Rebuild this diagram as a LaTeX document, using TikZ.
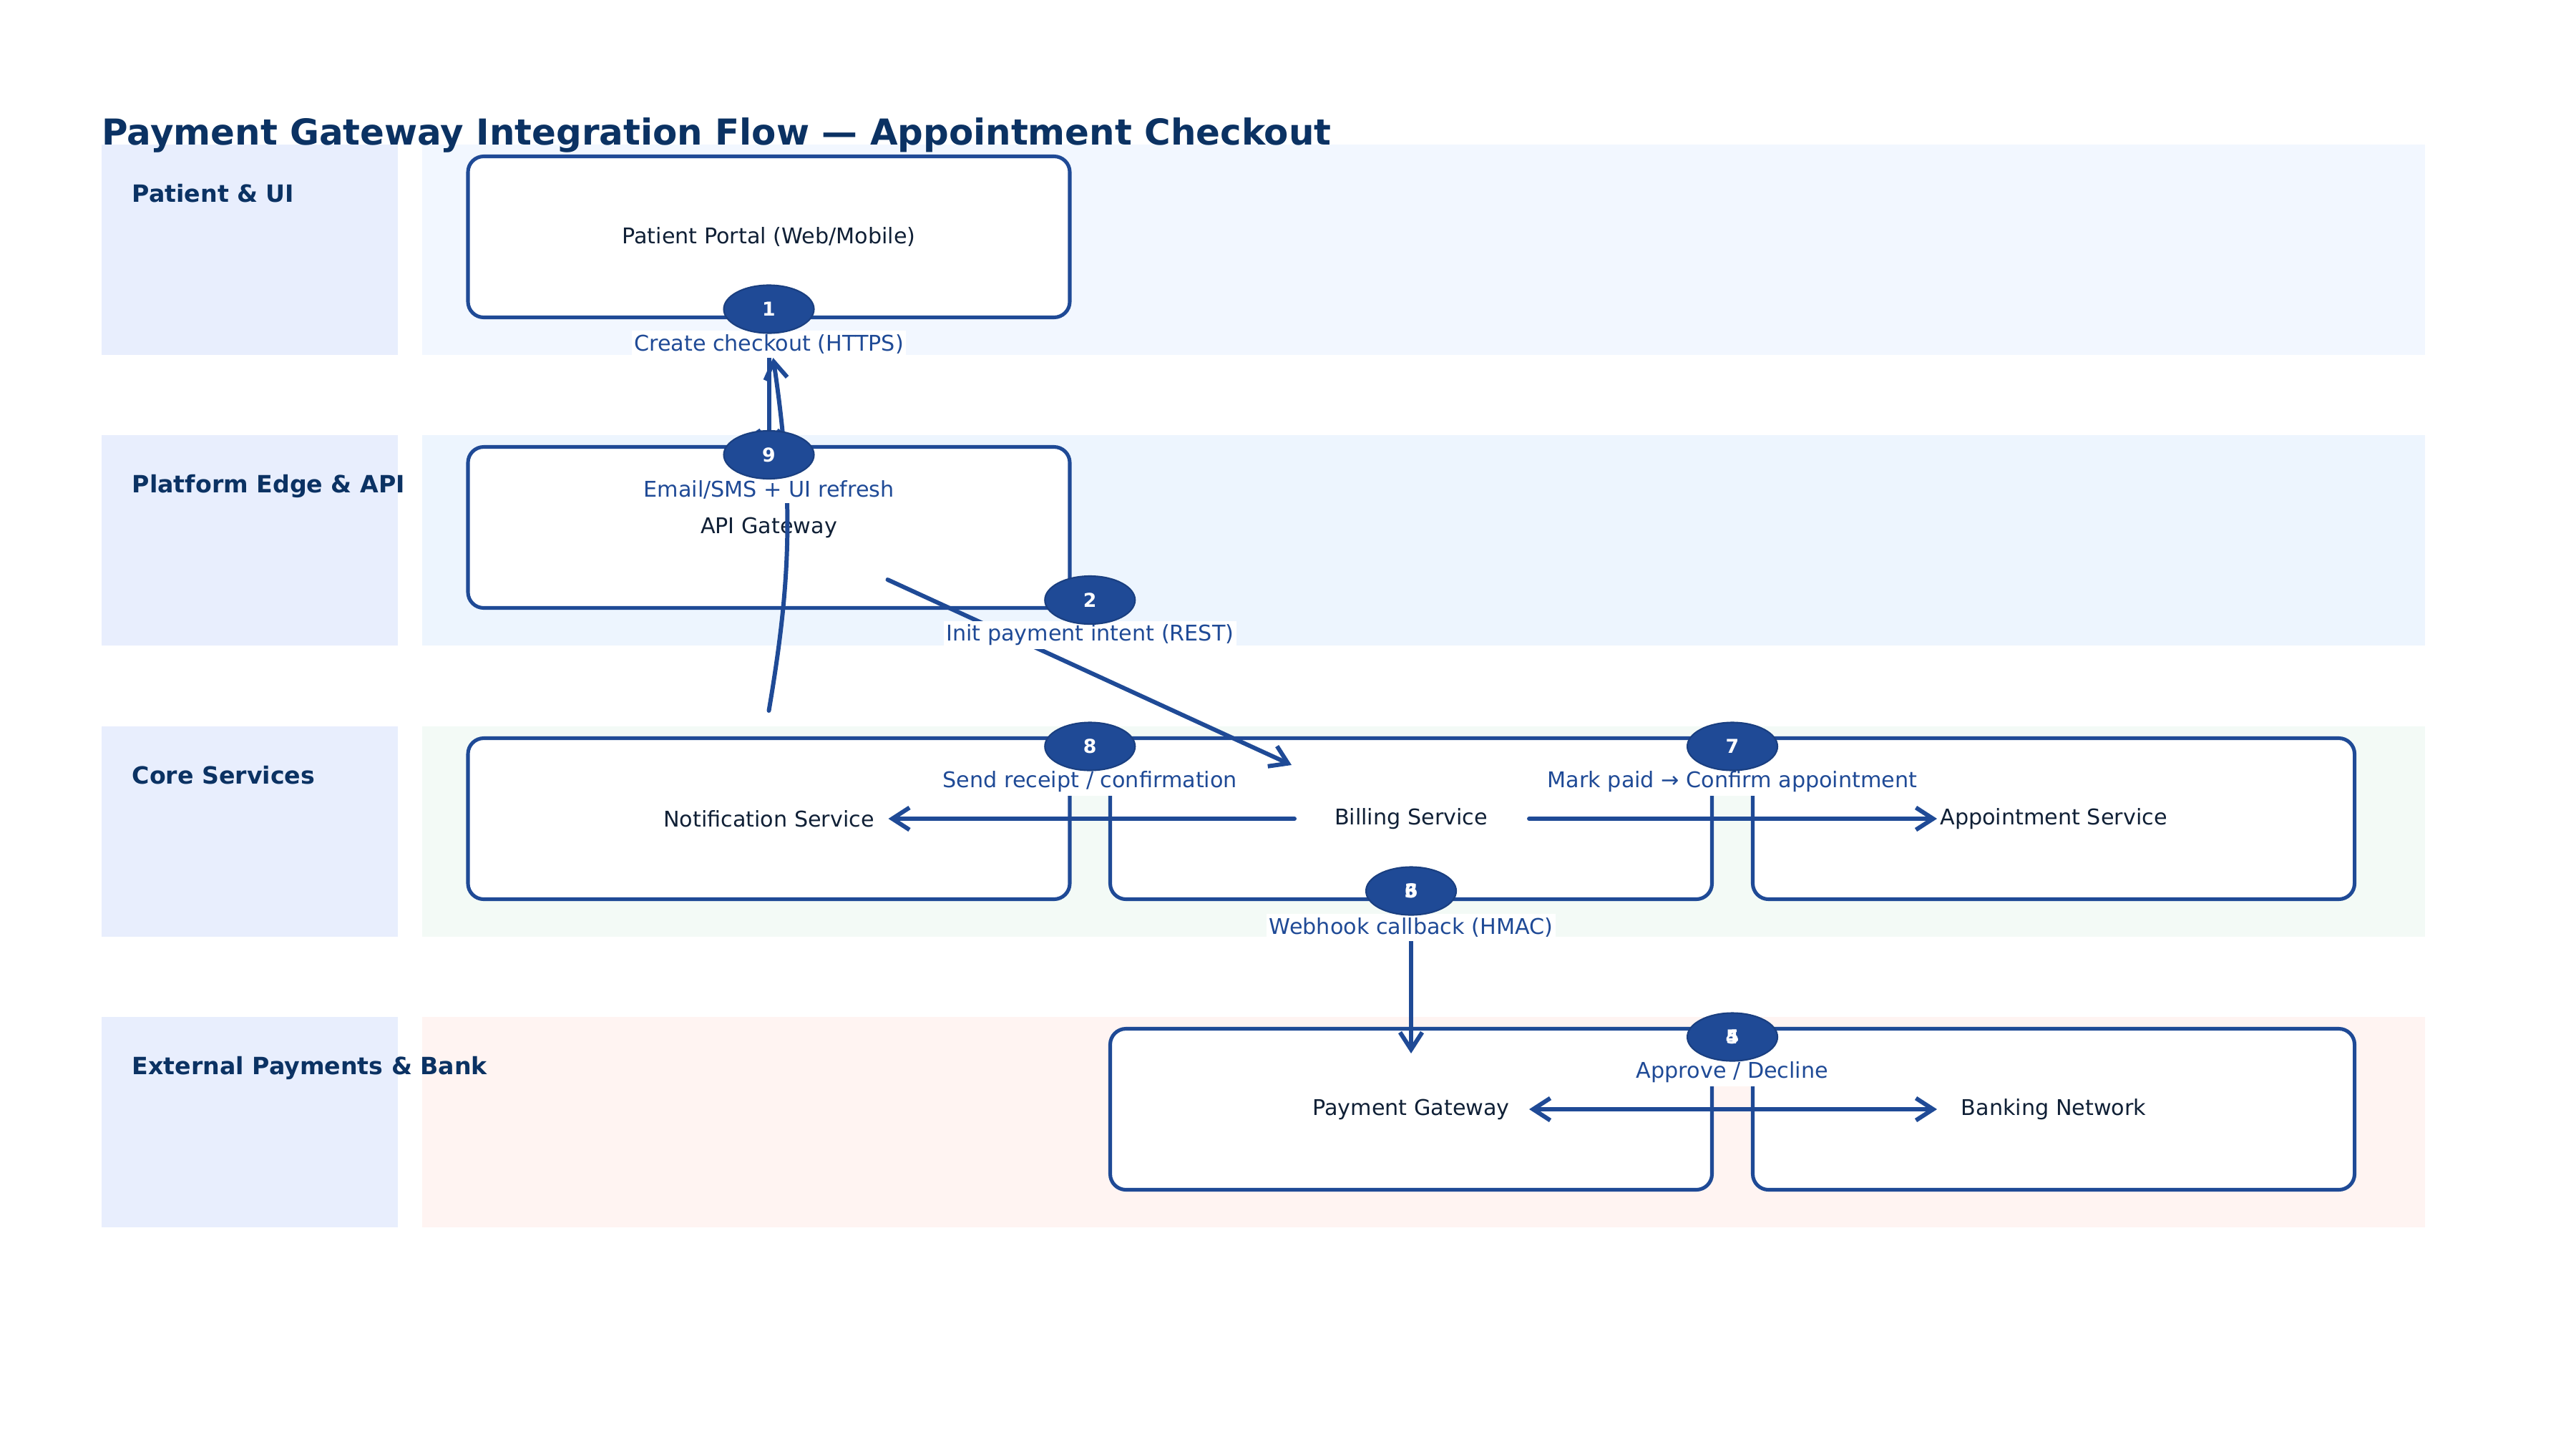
\documentclass[tikz,border=0pt]{standalone}
\usepackage{fontspec}
\setmainfont{DejaVu Sans}
\usepackage{xcolor}
\usepackage{tikz}
\usetikzlibrary{calc,arrows.meta,shapes.geometric}

\definecolor{navy}{HTML}{0B3263}
\definecolor{flowblue}{HTML}{1F4A96}
\definecolor{inkdark}{HTML}{102036}
\definecolor{lanehead}{HTML}{E8EEFD}
\definecolor{laneui}{HTML}{F2F7FF}
\definecolor{laneedge}{HTML}{EDF5FE}
\definecolor{lanecore}{HTML}{F3FAF6}
\definecolor{laneext}{HTML}{FFF4F2}

\begin{document}
\begin{tikzpicture}[
  svc/.style={draw=flowblue, line width=1.45pt, fill=white, rounded corners=0.22cm,
    minimum width=8.41cm, minimum height=2.25cm, inner sep=0pt,
    text=inkdark, font=\fontsize{8.6}{10}\selectfont},
  badge/.style={ellipse, fill=flowblue, draw=flowblue!85!black, line width=0.6pt,
    minimum width=1.26cm, minimum height=0.67cm, inner sep=0pt,
    text=white, font=\bfseries\fontsize{7.6}{9}\selectfont},
  steplabel/.style={fill=white, text=flowblue, inner xsep=1pt, inner ysep=1.5pt,
    font=\fontsize{8.6}{10}\selectfont},
  flow/.style={draw=flowblue, line width=1.7pt, line cap=round,
    -{Straight Barb[length=2.4mm,width=3.1mm]}},
  lanetitle/.style={anchor=base west, inner sep=0pt, text=navy, font=\bfseries\fontsize{9.45}{11}\selectfont}
]
  \fill[white] (0,0) rectangle (36,-20);
  \useasboundingbox (0,0) rectangle (36,-20);

  % swim lanes
  \fill[lanehead] (1.42,-2.02) rectangle (5.56,-4.96);
  \fill[laneui] (5.90,-2.02) rectangle (33.89,-4.96);
  \fill[lanehead] (1.42,-6.08) rectangle (5.56,-9.02);
  \fill[laneedge] (5.90,-6.08) rectangle (33.89,-9.02);
  \fill[lanehead] (1.42,-10.15) rectangle (5.56,-13.09);
  \fill[lanecore] (5.90,-10.15) rectangle (33.89,-13.09);
  \fill[lanehead] (1.42,-14.21) rectangle (5.56,-17.15);
  \fill[laneext] (5.90,-14.21) rectangle (33.89,-17.15);
  \node[lanetitle] (tui) at (1.84,-2.82) {Patient \& UI};
  \node[lanetitle] (tedge) at (1.84,-6.88) {Platform Edge \& API};
  \node[lanetitle] (tcore) at (1.84,-10.95) {Core Services};
  \node[lanetitle] (text) at (1.84,-15.01) {External Payments \& Bank};

  \node[anchor=base west, inner sep=0pt, text=navy, font=\bfseries\fontsize{14.2}{16}\selectfont] (title)
    at (1.42,-2.02) {Payment Gateway Integration Flow — Appointment Checkout};

  % services
  \node[svc] (portal) at (10.745,-3.31) {Patient Portal (Web/Mobile)};
  \node[svc] (api) at (10.745,-7.37) {API Gateway};
  \node[svc] (notif) at (10.745,-11.44) {Notification Service};
  \node[svc] (bill) at (19.72,-11.44) {Billing Service};
  \node[svc] (appt) at (28.70,-11.44) {Appointment Service};
  \node[svc] (pg) at (19.72,-15.50) {Payment Gateway};
  \node[svc] (bank) at (28.70,-15.50) {Banking Network};

  % flows
  \draw[flow] ($(portal)+(0,-1.68)$) -- ($(api)+(0,1.07)$);
  \draw[flow] ($(api)+(1.66,-0.73)$) -- ($(bill)+(-1.67,0.75)$);
  \draw[flow] ($(bill)+(0,-1.70)$) -- ($(pg)+(0,0.78)$);
  \draw[flow, {Straight Barb[length=2.4mm,width=3.1mm]}-{Straight Barb[length=2.4mm,width=3.1mm]}]
    ($(pg)+(1.65,0)$) -- ($(bank)+(-1.63,0)$);
  \draw[flow] ($(bill)+(1.65,0)$) -- ($(appt)+(-1.63,0)$);
  \draw[flow] ($(bill)+(-1.63,0)$) -- ($(notif)+(1.67,0)$);
  \draw[flow] ($(notif)+(0,1.51)$) to[bend right=9] ($(portal)+(0.06,-1.69)$);

  % step labels
  \node[steplabel] (s1) at ($(portal)!0.5!(api)+(0,0.53)$) {Create checkout (HTTPS)};
  \node[steplabel] (s2) at ($(api)!0.5!(bill)+(0,0.53)$) {Init payment intent (REST)};
  \node[steplabel] (s3) at ($(bill)!0.5!(pg)+(0,0.51)$) {Webhook callback (HMAC)};
  \node[steplabel] (s4) at ($(pg)!0.5!(bank)+(0,0.52)$) {Approve / Decline};
  \node[steplabel] (s7) at ($(bill)!0.5!(appt)+(0,0.52)$) {Mark paid → Confirm appointment};
  \node[steplabel] (s8) at ($(bill)!0.5!(notif)+(0,0.52)$) {Send receipt / confirmation};
  \node[steplabel] (s9) at ($(notif)!0.5!(portal)+(0,0.53)$) {Email/SMS + UI refresh};

  % step numbers
  \node[badge] (b1) at ($(portal)!0.5!(api)+(0,1.02)$) {1};
  \node[badge] (b2) at ($(api)!0.5!(bill)+(0,1.02)$) {2};
  \node[badge] (b3) at ($(bill)!0.5!(pg)+(0,1.02)$) {\makebox[0pt]{3}\makebox[0pt]{6}};
  \node[badge] (b4) at ($(pg)!0.5!(bank)+(0,1.01)$) {\makebox[0pt]{4}\makebox[0pt]{5}};
  \node[badge] (b7) at ($(bill)!0.5!(appt)+(0,1.01)$) {7};
  \node[badge] (b8) at ($(bill)!0.5!(notif)+(0,1.01)$) {8};
  \node[badge] (b9) at ($(notif)!0.5!(portal)+(0,1.02)$) {9};
\end{tikzpicture}
\end{document}
